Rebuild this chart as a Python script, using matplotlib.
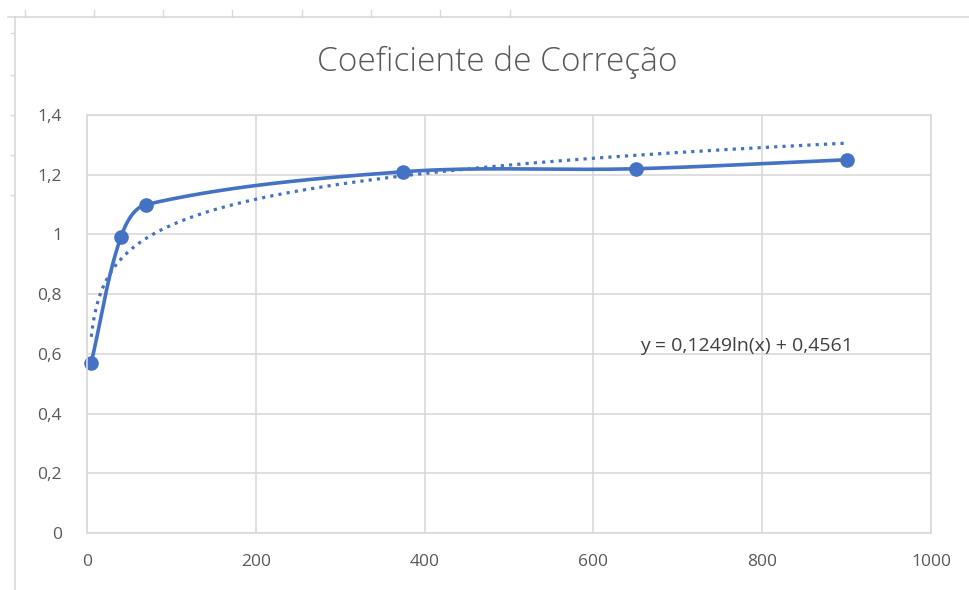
import numpy as np
import matplotlib
matplotlib.use("Agg")
import matplotlib.pyplot as plt
from matplotlib.lines import Line2D

# Data
x_vals = [5, 40, 70, 375, 650, 900]
y_vals = [0.57, 0.99, 1.10, 1.21, 1.22, 1.25]
trend_a = 0.1249
trend_b = 0.4561
title = "Coeficiente de Correção"
eq_label = "y = 0,1249ln(x) + 0,4561"
xticks = [0, 200, 400, 600, 800, 1000]
yticks = [0, 0.2, 0.4, 0.6, 0.8, 1.0, 1.2, 1.4]

BLUE = "#4472C4"
GRID = "#d9d9d9"
TXT = "#595959"
plt.rcParams['font.family'] = ['Open Sans', 'DejaVu Sans']

def excel_smooth(ax, xs, ys, n=80, k=1/3):
    P = ax.transData.transform(np.column_stack([xs, ys]))
    m = len(P)
    out = []
    def ctrl(i, forward):
        prev = P[i - 1] if i > 0 else P[i]
        nxt = P[i + 1] if i < m - 1 else P[i]
        T = nxt - prev
        dp = np.linalg.norm(P[i] - prev)
        dn = np.linalg.norm(nxt - P[i])
        if dp + dn == 0:
            return P[i]
        if forward:
            return P[i] + T * k * dn / (dp + dn)
        return P[i] - T * k * dp / (dp + dn)
    for i in range(m - 1):
        p1 = P[i]; p2 = P[i + 1]
        c1 = ctrl(i, True)
        c2 = ctrl(i + 1, False)
        t = np.linspace(0, 1, n)[:, None]
        seg = ((1 - t) ** 3) * p1 + 3 * ((1 - t) ** 2) * t * c1 + 3 * (1 - t) * t ** 2 * c2 + t ** 3 * p2
        out.append(seg if i == 0 else seg[1:])
    S = ax.transData.inverted().transform(np.vstack(out))
    return S[:, 0], S[:, 1]

fig = plt.figure(figsize=(9.7, 5.9), dpi=100)
# spreadsheet borders outside the chart
fig.add_artist(Line2D([8/970, 1], [1 - 17/590] * 2, color=GRID, lw=1.2))
fig.add_artist(Line2D([15/970] * 2, [0, 1 - 17/590], color=GRID, lw=1.2))
for px in [25, 94, 163, 232, 302, 371, 440, 510]:
    fig.add_artist(Line2D([px/970] * 2, [1 - 10/590, 1 - 17/590], color=GRID, lw=1))
for py in [33, 75, 115, 155, 195]:
    fig.add_artist(Line2D([11/970, 15/970], [1 - py/590] * 2, color=GRID, lw=1))

ax = fig.add_axes([87/970, 1 - 533/590, (931 - 87)/970, (533 - 115)/590])
ax.set_xlim(0, 1000)
ax.set_ylim(0, 1.4)
ax.set_xticks(xticks)
ax.set_yticks(yticks)
ax.set_xticklabels([str(v) for v in xticks])
ax.set_yticklabels([("%g" % v).replace(".", ",") for v in yticks])
ax.grid(True, color=GRID, lw=1.2)
ax.set_axisbelow(True)
for s in ax.spines.values():
    s.set_color(GRID)
    s.set_linewidth(1.2)
ax.tick_params(length=0, colors=TXT, labelsize=12.5)
ax.tick_params(axis='x', pad=15)
ax.tick_params(axis='y', pad=18)

sx, sy = excel_smooth(ax, x_vals, y_vals)
ax.plot(sx, sy, color=BLUE, lw=2.6, solid_capstyle='round', clip_on=False)
ax.plot(x_vals, y_vals, 'o', color=BLUE, ms=9.5, clip_on=False)

tx = np.linspace(x_vals[0], x_vals[-1], 400)
ax.plot(tx, trend_a * np.log(tx) + trend_b, color=BLUE, lw=2.3, ls=(0, (1.0, 1.6)),
        dash_capstyle='butt')

ax.text(655, 0.625, eq_label, fontsize=14, color="#404040", ha='left', va='center')

fig.text(497/970, 1 - 62/590, title, fontsize=24, color=TXT, ha='center', va='center',
         fontweight='light')

fig.savefig("out.png", dpi=100)
